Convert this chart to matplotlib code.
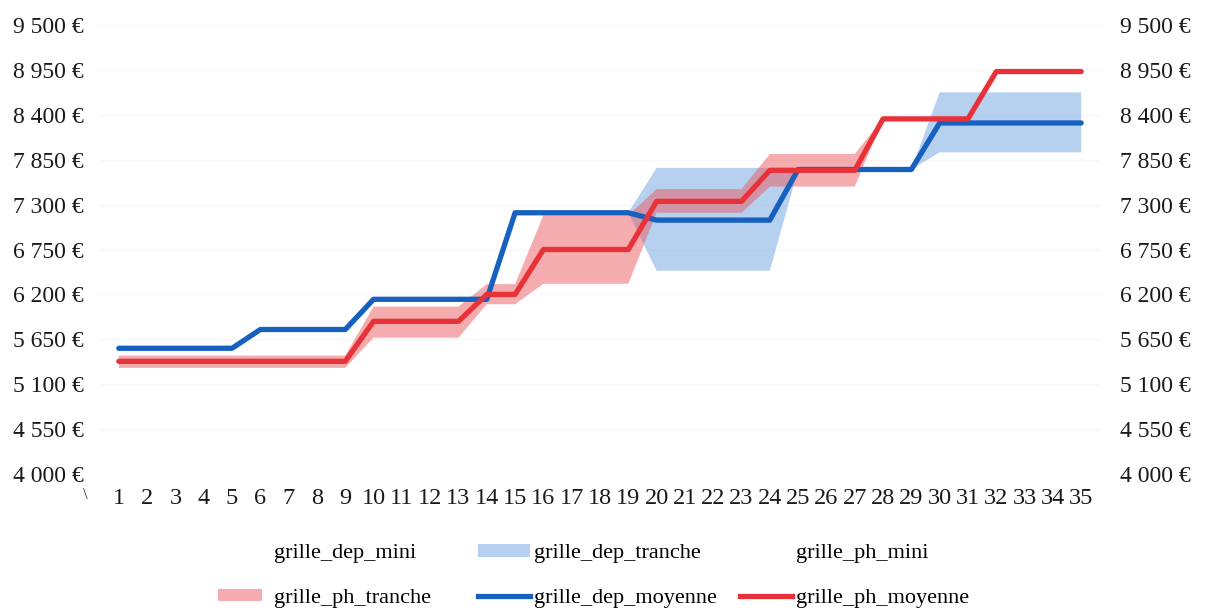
import matplotlib
matplotlib.use("Agg")
import matplotlib.pyplot as plt
import numpy as np
from matplotlib.ticker import FuncFormatter, FixedLocator
from matplotlib.patches import Patch
from matplotlib.lines import Line2D

plt.rcParams['font.family'] = ['Liberation Serif', 'DejaVu Serif']

# ---- data ----
categories = list(range(1, 36))

grille_dep_moyenne = [5540]*5 + [5770]*4 + [6140]*5 + [7200]*5 + [7110]*5 + [7730]*5 + [8300]*6
grille_dep_mini    = [5540]*5 + [5770]*4 + [6140]*5 + [7200]*5 + [6490]*5 + [7730]*5 + [7940]*6
grille_dep_tranche = [0]*5 + [0]*4 + [0]*5 + [0]*5 + [1260]*5 + [0]*5 + [735]*6

grille_ph_moyenne = [5380]*9 + [5870]*4 + [6200]*2 + [6750]*4 + [7340]*4 + [7720]*4 + [8350]*4 + [8930]*4
grille_ph_mini    = [5300]*9 + [5670]*4 + [6080]*2 + [6330]*4 + [7200]*4 + [7520]*4 + [8350]*4 + [8930]*4
grille_ph_tranche = [150]*9 + [380]*4 + [245]*2 + [840]*4 + [290]*4 + [400]*4 + [0]*4 + [0]*4

y_ticks = [4000, 4550, 5100, 5650, 6200, 6750, 7300, 7850, 8400, 8950, 9500]

# ---- style ----
BLUE_LINE = '#1661bf'
RED_LINE = '#e8323a'
BLUE_BAND = '#6fa3e0'
RED_BAND = '#ec5a5e'

W, H = 1209, 613
fig = plt.figure(figsize=(W/100, H/100), dpi=100)
fig.patch.set_facecolor('white')
ax_left, ax_right, ax_top, ax_bot = 99, 1101, 25, 474
ax = fig.add_axes([ax_left/W, 1-ax_bot/H, (ax_right-ax_left)/W, (ax_bot-ax_top)/H])

x = np.array(categories, dtype=float)
dep_lo = np.array(grille_dep_mini, dtype=float)
dep_hi = dep_lo + np.array(grille_dep_tranche, dtype=float)
ph_lo = np.array(grille_ph_mini, dtype=float)
ph_hi = ph_lo + np.array(grille_ph_tranche, dtype=float)

ax.fill_between(x, dep_lo, dep_hi, facecolor=BLUE_BAND, alpha=0.5, linewidth=0, zorder=2)
ax.fill_between(x, ph_lo, ph_hi, facecolor=RED_BAND, alpha=0.5, linewidth=0, zorder=3)
ax.plot(x, grille_dep_moyenne, color=BLUE_LINE, lw=3.8, solid_capstyle='round',
        solid_joinstyle='round', zorder=4)
ax.plot(x, grille_ph_moyenne, color=RED_LINE, lw=3.8, solid_capstyle='round',
        solid_joinstyle='round', zorder=5)

ax.set_xlim(0.3, 35.7)
ax.set_ylim(4000, 9500)
ax.yaxis.set_major_locator(FixedLocator(y_ticks))
fmt = FuncFormatter(lambda v, p: f"{int(round(v)):,}".replace(",", " ") + " €")
ax.yaxis.set_major_formatter(fmt)
ax.set_xticks(categories)
ax.set_xticklabels([str(c) for c in categories])
ax.tick_params(axis='x', length=0, pad=10, labelsize=17.5, colors='#1a1a1a')
ax.tick_params(axis='y', length=0, pad=11, labelsize=17, colors='#1a1a1a')
for s in ax.spines.values():
    s.set_visible(False)
ax.grid(axis='y', color='#f6f6f6', lw=0.8, zorder=0)
ax.set_axisbelow(True)

ax2 = ax.twinx()
ax2.set_ylim(4000, 9500)
ax2.yaxis.set_major_locator(FixedLocator(y_ticks))
ax2.yaxis.set_major_formatter(fmt)
ax2.tick_params(axis='y', length=0, pad=14, labelsize=17, colors='#1a1a1a')
for s in ax2.spines.values():
    s.set_visible(False)

fig.text(85/W, 1-495/H, "\\", fontsize=12, color='#333333', ha='center', va='center')

# ---- legend (three columns) ----
none_h = Patch(facecolor='none', edgecolor='none')
ph_tr_h = Patch(facecolor=RED_BAND, alpha=0.5, edgecolor='none')
dep_tr_h = Patch(facecolor=BLUE_BAND, alpha=0.5, edgecolor='none')
dep_mo_h = Line2D([], [], color=BLUE_LINE, lw=3.8)
ph_mo_h = Line2D([], [], color=RED_LINE, lw=3.8)

top = 1 - 544/H
common = dict(loc='upper left', frameon=False, borderpad=0, borderaxespad=0,
              fontsize=16, labelspacing=1.15, handleheight=0.5)
l1 = fig.legend([none_h, ph_tr_h], ['grille_dep_mini', 'grille_ph_tranche'],
                bbox_to_anchor=(218/W, top), handlelength=2.0, handletextpad=0.5, **common)
l2 = fig.legend([dep_tr_h, dep_mo_h], ['grille_dep_tranche', 'grille_dep_moyenne'],
                bbox_to_anchor=(478/W, top), handlelength=2.35, handletextpad=0.15, **common)
l3 = fig.legend([none_h, ph_mo_h], ['grille_ph_mini', 'grille_ph_moyenne'],
                bbox_to_anchor=(740/W, top), handlelength=2.35, handletextpad=0.15, **common)

fig.savefig('out.png', dpi=100, facecolor='white')
